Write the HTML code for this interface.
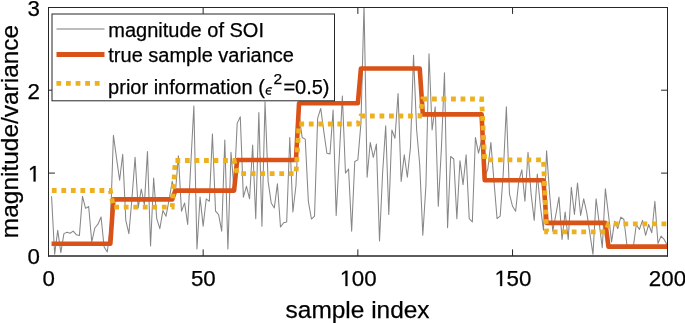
<!DOCTYPE html>
<html><head><meta charset="utf-8"><style>
html,body{margin:0;padding:0;background:#fff;width:685px;height:323px;overflow:hidden}
svg{display:block;will-change:transform}
text{font-family:"Liberation Sans",sans-serif;fill:#000;stroke:#000;stroke-width:0.25px}
</style></head><body>
<svg width="685" height="323" viewBox="0 0 685 323">
<defs><clipPath id="ax"><rect x="48" y="7" width="620" height="249"/></clipPath></defs>
<g id="data" clip-path="url(#ax)">
<polyline id="gray" fill="none" stroke="#878787" stroke-width="1.05" stroke-linejoin="round" points="51.54,196.31 54.64,254.34 57.73,230.30 60.83,252.68 63.92,233.62 67.01,232.29 70.11,233.20 73.20,231.13 76.30,234.69 79.39,235.61 82.48,196.31 85.58,208.33 88.67,206.43 91.77,241.99 94.86,227.98 97.95,224.17 101.05,217.04 104.14,247.05 107.24,252.02 110.33,226.99 113.42,135.21 116.52,158.18 119.61,180.23 122.71,154.20 125.80,220.35 128.89,233.62 131.99,197.97 135.08,157.35 138.18,207.92 141.27,189.02 144.36,204.60 147.46,151.55 150.55,246.05 153.65,178.07 156.74,218.69 159.83,228.64 162.93,210.41 166.02,216.21 169.12,199.63 172.21,181.39 175.30,193.82 178.40,155.69 181.49,211.23 184.59,202.94 187.68,224.50 190.77,164.81 193.87,105.95 196.96,248.95 200.06,197.14 203.15,226.16 206.24,198.80 209.34,201.29 212.43,134.14 215.53,211.23 218.62,214.55 221.71,231.13 224.81,139.94 227.90,248.95 231.00,152.38 234.09,189.68 237.18,123.36 240.28,116.73 243.37,197.14 246.47,186.36 249.56,198.80 252.65,144.91 255.75,218.69 258.84,112.58 261.94,226.16 265.03,101.81 268.12,181.39 271.22,202.94 274.31,207.92 277.41,183.88 280.50,226.99 283.59,222.84 286.69,222.01 289.78,137.45 292.88,212.06 295.97,185.54 299.06,115.07 302.16,137.45 305.25,139.11 308.35,201.29 311.44,219.03 314.53,216.21 317.63,118.39 320.72,108.44 323.82,131.65 326.91,153.20 330.00,154.03 333.10,110.10 336.19,215.38 339.29,156.52 342.38,96.00 345.47,173.10 348.57,168.95 351.66,231.13 354.76,161.49 357.85,159.84 360.94,123.36 364.04,4.81 367.13,177.25 370.23,142.43 373.32,157.35 376.41,144.09 379.51,241.08 382.60,173.10 385.70,125.85 388.79,214.55 391.88,129.99 394.98,138.28 398.07,93.52 401.17,181.39 404.26,154.86 407.35,177.25 410.45,147.40 413.54,55.38 416.64,129.99 419.73,164.81 422.82,235.28 425.92,185.54 429.01,53.72 432.11,129.99 435.20,106.78 438.29,206.26 441.39,148.23 444.48,72.79 447.58,227.81 450.67,156.52 453.76,159.01 456.86,218.69 459.95,160.67 463.05,184.71 466.14,154.86 469.23,218.69 472.33,222.01 475.42,137.45 478.52,153.20 481.61,139.94 484.70,177.25 487.80,168.95 490.89,142.43 493.99,181.39 497.08,218.69 500.17,216.21 503.27,173.10 506.36,106.78 509.46,193.82 512.55,206.26 515.64,211.23 518.74,181.39 521.83,169.78 524.93,201.29 528.02,152.38 531.11,193.82 534.21,220.35 537.30,173.93 540.40,206.26 543.49,230.30 546.58,150.72 549.68,194.65 552.77,231.13 555.87,214.55 558.96,197.14 562.05,239.42 565.15,212.06 568.24,239.42 571.34,187.19 574.43,214.55 577.52,183.05 580.62,215.38 583.71,198.80 586.81,212.89 589.90,233.62 592.99,254.34 596.09,198.80 599.18,222.84 602.28,247.71 605.37,188.85 608.46,214.55 611.56,241.91 614.65,221.18 617.75,228.64 620.84,217.04 623.93,219.52 627.03,246.05 630.12,247.71 633.22,247.71 636.31,224.50 639.40,229.47 642.50,220.35 645.59,235.28 648.69,224.50 651.78,232.79 654.87,201.29 657.97,243.56 661.06,236.10 664.16,239.42 667.25,245.22"/>
<polyline id="orange" fill="none" stroke="#D95319" stroke-width="4.6" stroke-linejoin="round" points="51.54,243.81 110.33,243.81 113.42,199.38 172.21,199.38 175.30,190.59 234.09,190.59 237.18,160.00 295.97,160.00 299.06,103.22 357.85,103.22 360.94,68.56 419.73,68.56 422.82,114.41 481.61,114.41 484.70,180.23 543.49,180.23 546.58,222.84 605.37,222.84 608.46,246.63 667.25,246.63"/>
<polyline id="yellow" fill="none" stroke="#EDB120" stroke-width="4.8" stroke-dasharray="4.79 4.735" stroke-dashoffset="-0.3" points="51.54,190.51 110.33,190.51 113.42,207.09 172.21,207.09 175.30,160.50 234.09,160.50 237.18,173.68 295.97,173.68 299.06,124.02 357.85,124.02 360.94,115.98 419.73,115.98 422.82,98.99 481.61,98.99 484.70,159.84 543.49,159.84 546.58,231.96 605.37,231.96 608.46,223.92 667.25,223.92"/>
</g>
<g id="axes" stroke="#262626" stroke-width="1" fill="none">
<path d="M48.5 7v249.6M667.5 7v249.6M48 7.5h620"/><path d="M48 256h620" stroke-width="1.4"/>
<path d="M48.5 173.1h6.4M48.5 90.2h6.4M667.5 173.1h-6.4M667.5 90.2h-6.4M203.15 256v-6.6M357.85 256v-6.6M512.55 256v-6.6M203.15 7.5v6.4M357.85 7.5v6.4M512.55 7.5v6.4"/>
</g>
<g font-size="22.3">
<text x="27.60" y="264.3">0</text>
<path transform="translate(28.00 181.4) scale(0.010889 -0.010889)" d="M515 0V1237L197 1010V1180L530 1409H696V0Z" fill="#000" stroke="#000" stroke-width="0.25" vector-effect="non-scaling-stroke"/>
<text x="27.60" y="98.5">2</text>
<text x="27.60" y="15.6">3</text>
<text x="42.45" y="286.1">0</text>
<text x="190.95" y="286.1">50</text>
<path transform="translate(339.85 286.1) scale(0.010889 -0.010889)" d="M515 0V1237L197 1010V1180L530 1409H696V0Z" fill="#000" stroke="#000" stroke-width="0.25" vector-effect="non-scaling-stroke"/><text x="351.85" y="286.1">00</text>
<path transform="translate(494.55 286.1) scale(0.010889 -0.010889)" d="M515 0V1237L197 1010V1180L530 1409H696V0Z" fill="#000" stroke="#000" stroke-width="0.25" vector-effect="non-scaling-stroke"/><text x="506.55" y="286.1">50</text>
<text x="648.85" y="286.1">200</text>
</g>
<text x="357.6" y="318.1" font-size="24.45" text-anchor="middle">sample index</text>
<text transform="translate(17.9 131.5) rotate(-90)" font-size="24.45" text-anchor="middle">magnitude/variance</text>
<g id="legend">
<rect x="52" y="14" width="282.5" height="86.8" fill="#fff" stroke="#262626" stroke-width="1"/>
<path d="M56.5 29h48" stroke="#a6a6a6" stroke-width="1.5"/>
<path d="M56.5 54.5h48" stroke="#D95319" stroke-width="4.8"/>
<path d="M56.4 83.3h48.1" stroke="#EDB120" stroke-width="4.7" stroke-dasharray="4.8 4.8"/>
<g font-size="20">
<text x="108.3" y="36.5">magnitude of SOI</text>
<text x="108.3" y="62.3">true sample variance</text>
<text x="108.1" y="94.1">prior information (</text>
<text x="283.4" y="94.2">=0.5)</text>
<text x="273.5" y="84.2" font-size="15.5">2</text>
</g>
<path d="M272 88.2 C270 87.2 266.8 87.8 266.2 90.8 C265.7 93.3 268 95 271 93.8 M266.5 90.8 H270.8" fill="none" stroke="#000" stroke-width="1.3"/>
</g>
</svg>
</body></html>
